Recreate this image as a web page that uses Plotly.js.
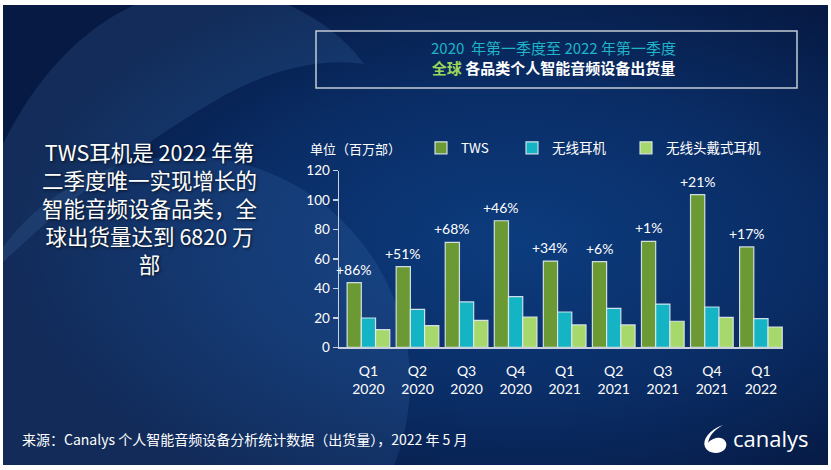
<!DOCTYPE html>
<html>
<head>
<meta charset="utf-8">
<script src="https://cdn.plot.ly/plotly-3.0.1.min.js"></script>
<style>
  html, body { margin: 0; padding: 0; background: #fff; }
  #chart { width: 831px; height: 470px; }
</style>
</head>
<body>
<div id="chart"></div>
<script>
// 数据（百万部）
const quarters = ['Q1<br>2020', 'Q2<br>2020', 'Q3<br>2020', 'Q4<br>2020', 'Q1<br>2021', 'Q2<br>2021', 'Q3<br>2021', 'Q4<br>2021', 'Q1<br>2022'];
const tws = [43.9, 54.8, 71.3, 86.0, 58.6, 58.2, 72.0, 103.7, 68.2];
const wireless = [19.9, 25.8, 30.8, 34.4, 24.0, 26.5, 29.4, 27.4, 19.5];
const headphones = [12.0, 14.7, 18.3, 20.6, 15.2, 15.2, 17.7, 20.4, 13.8];
const twsGrowth = ['+86%', '+51%', '+68%', '+46%', '+34%', '+6%', '+1%', '+21%', '+17%'];
const seriesNames = ['TWS', '无线耳机', '无线头戴式耳机'];
const seriesColors = ['#6b9a35', '#14b4c4', '#a6d86b'];
const legendWidths = [46, 69, 100];

const leftText = ['TWS耳机是 2022 年第', '二季度唯一实现增长的', '智能音频设备品类，全', '球出货量达到 6820 万', '部'];

const W = 831, H = 470;
const px = x => x / W;
const py = y => 1 - y / H;
const CJK = '"Noto Sans CJK SC", "Noto Sans", sans-serif';
const NUM = 'Lato, "Noto Sans", sans-serif';

// 背景：深蓝渐变 + 浅色弧形 + logo 图标
const bgSvg = `<svg xmlns='http://www.w3.org/2000/svg' width='831' height='470' viewBox='0 0 831 470' preserveAspectRatio='none'>
<defs>
<radialGradient id='g' cx='0.62' cy='0.52' r='0.62'>
<stop offset='0' stop-color='#0c3c7e'/>
<stop offset='0.55' stop-color='#0a2d66'/>
<stop offset='1' stop-color='#061a44'/>
</radialGradient>
<clipPath id='c'><rect x='3' y='5' width='825' height='460'/></clipPath>
</defs>
<rect x='3' y='5' width='825' height='460' fill='url(#g)'/>
<g clip-path='url(#c)'>
<path d='M0,150 Q50,45 134,5 L289,5 Q338,28 364,64 Q300,55 225,95 Q110,160 0,265 Z' fill='#5a8fd0' fill-opacity='0.16'/>
<circle cx='184' cy='382' r='226' fill='#5a8fd0' fill-opacity='0.15'/>
</g>
<path d='M723,425 C709,430 702,440 705,447 C708,454 720,455 725,449 C729,443 724,436 716,438 C712,439 709,441 708,443 C709,436 714,430 723,425 Z' fill='#ffffff'/>
</svg>`;

const traces = [tws, wireless, headphones].map((vals, i) => ({
  type: 'bar',
  name: seriesNames[i],
  x: quarters,
  y: vals,
  legendwidth: legendWidths[i],
  marker: { color: seriesColors[i], line: { color: 'rgba(226,234,242,0.9)', width: 1.2 } },
  hoverinfo: 'skip'
}));

const bargap = 0.13;
const barW = (1 - bargap) / 3;

const annotations = [];
// TWS 同比增长标签
twsGrowth.forEach((t, i) => {
  annotations.push({
    x: i - barW, y: tws[i], xref: 'x', yref: 'y',
    text: t, showarrow: false, xanchor: 'center', yanchor: 'bottom', yshift: 3,
    font: { family: NUM, size: 14, color: '#ffffff' }
  });
});
annotations.push(
  {
    // 左侧说明文字
    x: px(149), y: py(207), xref: 'paper', yref: 'paper', showarrow: false,
    xanchor: 'center', yanchor: 'middle', align: 'center',
    text: leftText.join('<br>'),
    font: { family: CJK, size: 21.5, color: '#ffffff', shadow: '1px 1px 3px rgba(0,0,0,0.7)' }
  },
  {
    x: px(553), y: py(58), xref: 'paper', yref: 'paper', showarrow: false,
    xanchor: 'center', yanchor: 'middle', align: 'center',
    text: '<span style="color:#1fb4c8">2020  年第一季度至 2022 年第一季度</span><br>' +
          '<b><span style="color:#9ad65a">全球</span> 各品类个人智能音频设备出货量</b>',
    font: { family: CJK, size: 15, color: '#ffffff' }
  },
  {
    x: px(308), y: py(148), xref: 'paper', yref: 'paper', showarrow: false,
    xanchor: 'left', yanchor: 'middle',
    text: '单位（百万部）',
    font: { family: CJK, size: 13, color: '#ffffff' }
  },
  {
    x: px(20), y: py(439), xref: 'paper', yref: 'paper', showarrow: false,
    xanchor: 'left', yanchor: 'middle',
    text: '来源：Canalys 个人智能音频设备分析统计数据（出货量），2022 年 5 月',
    font: { family: CJK, size: 14, color: '#ffffff' }
  },
  {
    x: px(731), y: py(438), xref: 'paper', yref: 'paper', showarrow: false,
    xanchor: 'left', yanchor: 'middle',
    text: 'canalys',
    font: { family: '"Open Sans", sans-serif', size: 22, color: '#ffffff' }
  }
);

const layout = {
  width: W, height: H,
  margin: { l: 0, r: 0, t: 0, b: 0 },
  paper_bgcolor: '#ffffff',
  plot_bgcolor: 'rgba(0,0,0,0)',
  barmode: 'group',
  bargap: bargap,
  bargroupgap: 0,
  showlegend: true,
  legend: {
    orientation: 'h', x: px(421), y: py(148), xanchor: 'left', yanchor: 'middle',
    font: { family: CJK, size: 13.5, color: '#ffffff' },
    bgcolor: 'rgba(0,0,0,0)', traceorder: 'normal'
  },
  xaxis: {
    domain: [px(339), px(783)],
    range: [-0.6, 8.45],
    type: 'category',
    showline: true, linecolor: '#c9d1dc', linewidth: 1.5,
    ticks: '', showgrid: false, zeroline: false,
    ticklabelstandoff: 10,
    tickfont: { family: NUM, size: 14, color: '#ffffff' }
  },
  yaxis: {
    domain: [py(347.3), py(170.7)],
    range: [0, 120], dtick: 20,
    showline: true, linecolor: '#c9d1dc', linewidth: 1.5,
    ticks: 'outside', ticklen: 5, tickcolor: '#c9d1dc', tickwidth: 1.5,
    showgrid: false, zeroline: false,
    tickfont: { family: NUM, size: 13.5, color: '#ffffff' }
  },
  images: [{
    source: 'data:image/svg+xml;charset=utf-8,' + encodeURIComponent(bgSvg),
    xref: 'paper', yref: 'paper', x: 0, y: 1, sizex: 1, sizey: 1,
    xanchor: 'left', yanchor: 'top', sizing: 'stretch', layer: 'below'
  }],
  shapes: [{
    type: 'rect', xref: 'paper', yref: 'paper',
    x0: px(316), x1: px(797), y0: py(88), y1: py(31),
    line: { color: '#c4cbd4', width: 1.5 }, fillcolor: 'rgba(0,0,0,0)'
  }],
  annotations: annotations
};

Plotly.newPlot('chart', traces, layout, { displayModeBar: false, staticPlot: true });
</script>
</body>
</html>
